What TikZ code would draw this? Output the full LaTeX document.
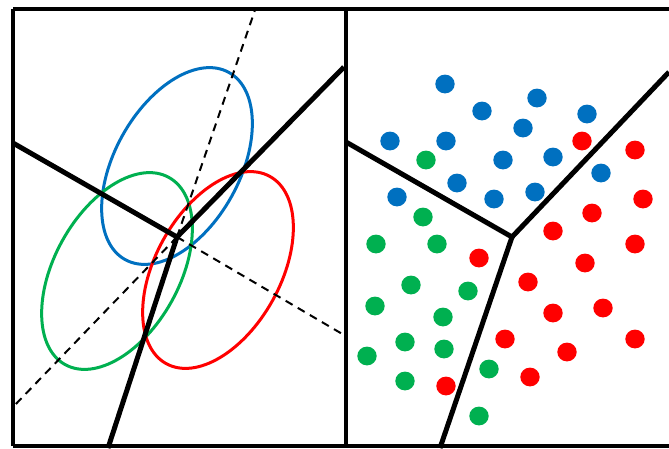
\documentclass[tikz,border=0pt]{standalone}
\usepackage{xcolor}
\definecolor{clsblue}{HTML}{0070C0}
\definecolor{clsgreen}{HTML}{00B050}
\definecolor{clsred}{HTML}{FF0000}
\tikzset{
  frame/.style={draw=black, line width=4pt},
  border/.style={draw=black, line width=5pt, line join=miter},
  extension/.style={draw=black, line width=2pt, dash pattern=on 8pt off 6pt},
  gauss/.style={line width=3pt},
  dot/.style={x radius=9.7pt, y radius=9.4pt}
}

\begin{document}
\begin{tikzpicture}[x=1pt, y=1pt]
  \useasboundingbox (0,0) rectangle (669,-448);

  % left panel: three gaussians
  \draw[gauss, clsblue]  (177,-166) ellipse [x radius=107pt, y radius=62.5pt, rotate=61];
  \draw[gauss, clsgreen] (117,-271) ellipse [x radius=107pt, y radius=62.5pt, rotate=61];
  \draw[gauss, clsred]   (218,-270) ellipse [x radius=107pt, y radius=62.5pt, rotate=61];

  \coordinate (lc) at (177,-237);
  \coordinate (lw) at (13,-143);
  \coordinate (lne) at (344,-67);
  \coordinate (ls) at (108,-448);
  \coordinate (lnn) at (255,-10);
  \coordinate (lsw) at (13,-407);
  \coordinate (le) at (344,-335);

  \draw[extension] (lc) -- (lnn);
  \draw[extension] (lc) -- (lsw);
  \draw[extension] (lc) -- (le);
  \draw[border] (lw) -- (lc) -- (lne);
  \draw[border] (lc) -- (ls);

  % right panel: samples
  \foreach \x/\y in {445/84, 482/111, 537/98, 587/114, 523/128, 390/141, 446/141,
      503/160, 553/157, 601/173, 457/183, 535/192, 494/199, 397/197}
    \fill[clsblue] (\x,-\y) ellipse [dot];
  \foreach \x/\y in {426/160, 423/217, 376/244, 437/244, 411/285, 468/291, 375/306,
      443/317, 405/342, 444/349, 367/356, 489/369, 405/381, 479/416}
    \fill[clsgreen] (\x,-\y) ellipse [dot];
  \foreach \x/\y in {582/141, 635/150, 643/199, 592/213, 553/231, 635/244, 479/258,
      585/263, 528/282, 603/308, 553/313, 505/339, 635/339, 567/352, 530/377, 446/386}
    \fill[clsred] (\x,-\y) ellipse [dot];

  \coordinate (rc) at (512,-237);
  \coordinate (rw) at (346,-142);
  \coordinate (rne) at (669,-72);
  \coordinate (rs) at (440,-448);

  \draw[border] (rw) -- (rc) -- (rne);
  \draw[border] (rc) -- (rs);

  % frames
  \draw[frame] (13,-9) -- (669,-9);
  \draw[frame] (13,-446) -- (669,-446);
  \draw[frame] (13,-9) -- (13,-446);
  \draw[frame] (345.5,-9) -- (345.5,-446);
\end{tikzpicture}
\end{document}
